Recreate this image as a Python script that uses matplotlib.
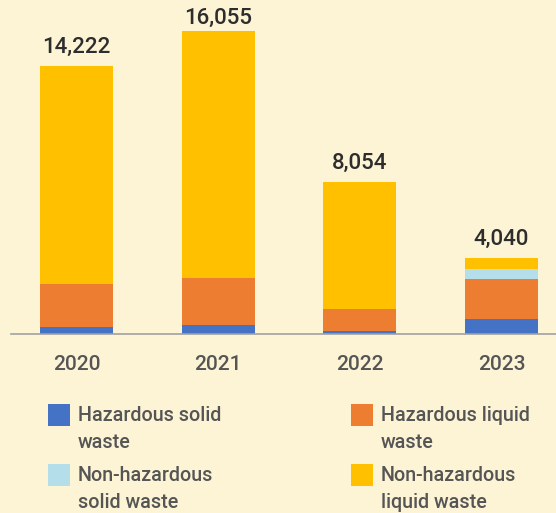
import numpy as np
import matplotlib
matplotlib.use("Agg")
import matplotlib.pyplot as plt
from matplotlib.patches import Rectangle

plt.rcParams['font.family'] = ['Roboto', 'DejaVu Sans']

years = ['2020', '2021', '2022', '2023']
haz_solid = [393, 500, 143, 769]
haz_liquid = [2252, 2467, 1180, 2145]
nonhaz_solid = [0, 0, 0, 536]
nonhaz_liquid = [11577, 13088, 6731, 590]
totals = [14222, 16055, 8054, 4040]

series_names = ['Hazardous solid\nwaste', 'Hazardous liquid\nwaste',
                'Non-hazardous\nsolid waste', 'Non-hazardous\nliquid waste']
colors = ['#4472C4', '#ED7D31', '#B4DEEA', '#FFC000']
bg = '#FDF4D6'

W, H = 556, 513
fig = plt.figure(figsize=(W / 100, H / 100), dpi=100, facecolor=bg)
ax = fig.add_axes([11/W, 179/H, 545/W, 334/H])
ax.set_facecolor(bg)

x = np.arange(len(years))
bottom = np.zeros(len(years))
for vals, c in zip([haz_solid, haz_liquid, nonhaz_solid, nonhaz_liquid], colors):
    ax.bar(x, vals, width=0.515, bottom=bottom, color=c, linewidth=0)
    bottom += np.array(vals)

ax.set_xlim(-0.462, 3.385)
ax.set_ylim(0, 17697)

# total labels: 13px above the bar, but kept inside the top of the figure
for xi, t in zip(x, totals):
    top_px = ax.transData.transform((xi, t))[1]
    y_px = min(top_px + 13, H - 24)
    fig.text(ax.transData.transform((xi, t))[0] / W, y_px / H, f"{t:,}",
             ha='center', va='baseline', fontsize=16, fontweight='medium',
             color='#2d2d2d')

ax.set_xticks(x)
ax.set_xticklabels(years, fontsize=15, fontweight='medium', color='#555555')
ax.tick_params(axis='x', length=0, pad=15)
ax.set_yticks([])
for s in ['top', 'right', 'left']:
    ax.spines[s].set_visible(False)
ax.spines['bottom'].set_color('#a0a0a0')
ax.spines['bottom'].set_linewidth(1.2)

# legend, two columns (text anchored at baseline of its second line)
pos = [(48, 404), (351, 404), (48, 464), (351, 464)]
for (px, py), name, c in zip(pos, series_names, colors):
    fig.patches.append(Rectangle((px / W, 1 - (py + 22) / H), 22 / W, 22 / H,
                                 transform=fig.transFigure, color=c, lw=0))
    fig.text((px + 30) / W, 1 - (py + 43.5) / H, name, ha='left', va='baseline',
             fontsize=14.2, fontweight='medium', color='#555555', linespacing=1.5)

fig.savefig('out.png', dpi=100, facecolor=bg)
